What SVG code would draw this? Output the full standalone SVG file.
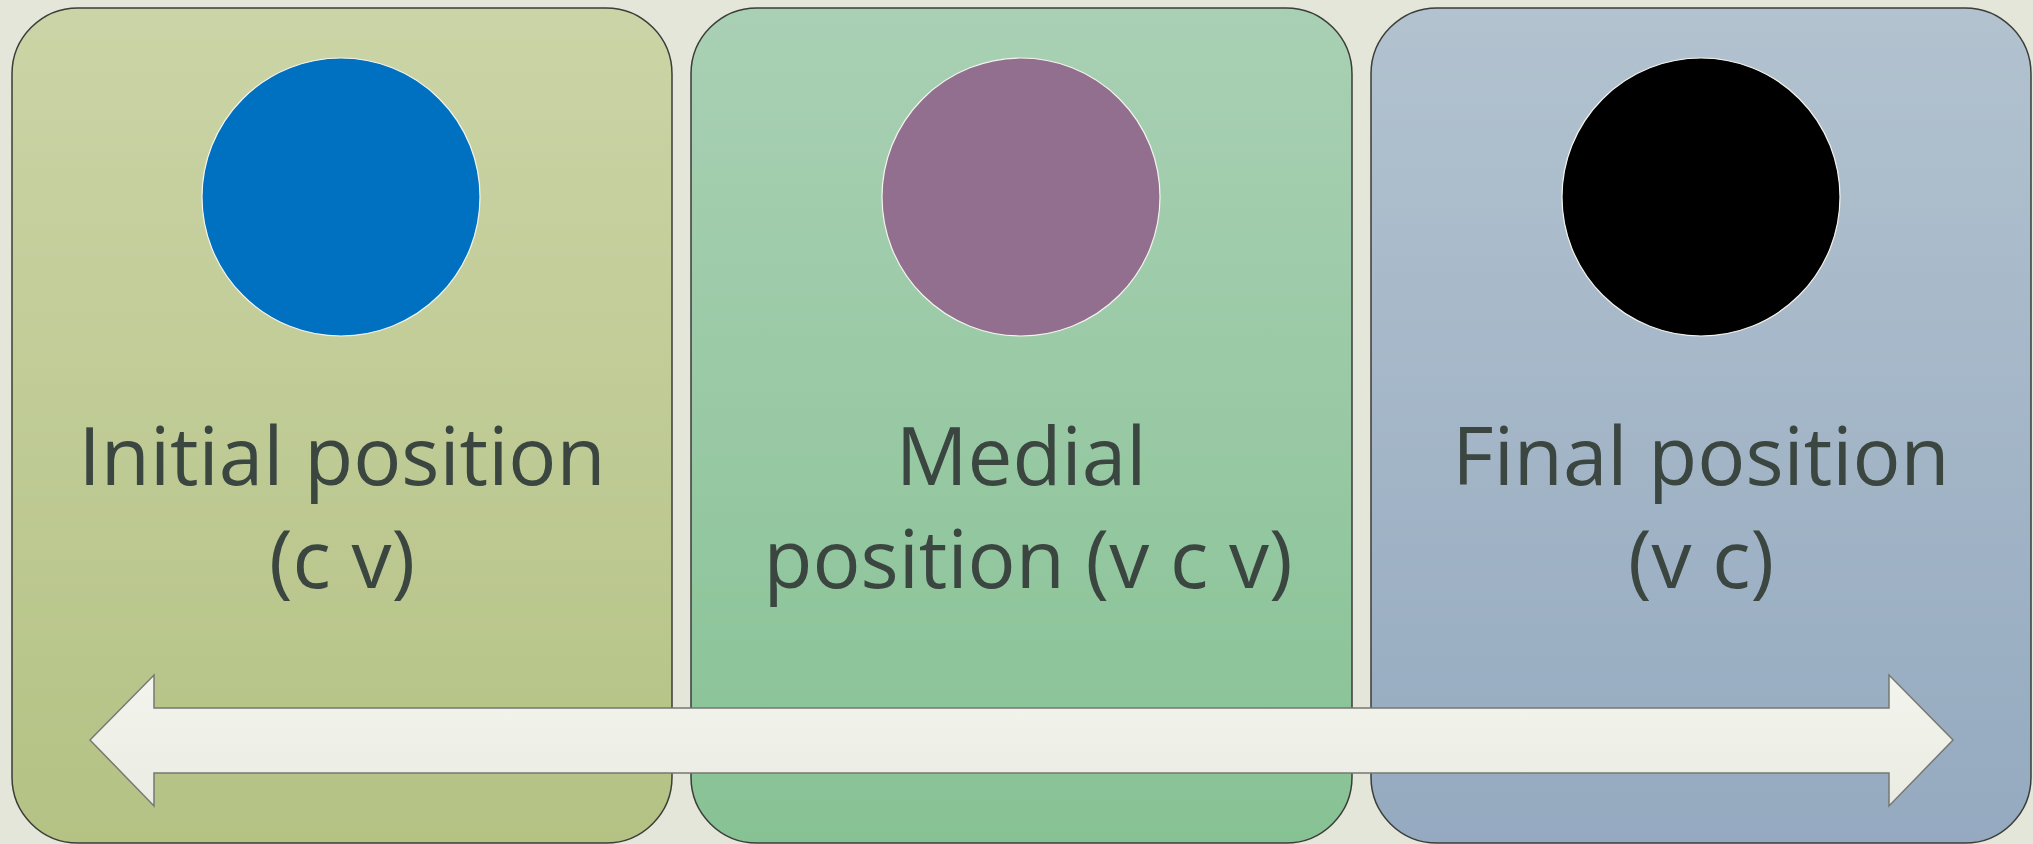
<svg xmlns="http://www.w3.org/2000/svg" width="2033" height="844" viewBox="0 0 2033 844">
<defs>
<linearGradient id="g1" x1="0" y1="0" x2="0" y2="1"><stop offset="0" stop-color="#CBD4A6"/><stop offset="1" stop-color="#B4C284"/></linearGradient>
<linearGradient id="g2" x1="0" y1="0" x2="0" y2="1"><stop offset="0" stop-color="#A9D0B4"/><stop offset="1" stop-color="#87C294"/></linearGradient>
<linearGradient id="g3" x1="0" y1="0" x2="0" y2="1"><stop offset="0" stop-color="#B2C2CF"/><stop offset="1" stop-color="#95AAC0"/></linearGradient>
<linearGradient id="ga" x1="0" y1="0" x2="0" y2="1"><stop offset="0" stop-color="#F3F4ED"/><stop offset="1" stop-color="#EAEBE2"/></linearGradient>
</defs>
<style>
.panel{stroke:#3a3d38;stroke-width:1.5}
.dot{stroke:#f4f4ee;stroke-width:1.2}
.lbl{font-family:"Open Sans","Noto Sans",sans-serif;font-size:80px;fill:#3B4641;text-anchor:middle}
</style>
<rect width="2033" height="844" fill="#E5E6DA"/>
<g id="node-initial">
<rect class="panel" x="12" y="8" width="660" height="835" rx="66" fill="url(#g1)"/>
<circle class="dot" cx="341" cy="197" r="139" fill="#0070C0"/>
<text class="lbl" x="342" y="485">Initial position</text>
<text class="lbl" x="342" y="588">(c v)</text>
</g>
<g id="node-medial">
<rect class="panel" x="691" y="8" width="661" height="835" rx="66" fill="url(#g2)"/>
<circle class="dot" cx="1021" cy="197" r="139" fill="#926F8F"/>
<text class="lbl" x="1021" y="485">Medial</text>
<text class="lbl" x="1028" y="588">position (v c v)</text>
</g>
<g id="node-final">
<rect class="panel" x="1371" y="8" width="660" height="835" rx="66" fill="url(#g3)"/>
<circle class="dot" cx="1701" cy="197" r="139" fill="#000000"/>
<text class="lbl" x="1701" y="485">Final position</text>
<text class="lbl" x="1701" y="588">(v c)</text>
</g>
<g id="connectors">
<path d="M90,740 L154,675 L154,708 L1889,708 L1889,675 L1953,740 L1889,806 L1889,773 L154,773 L154,806 Z" fill="url(#ga)" stroke="#767872" stroke-width="1.5" stroke-linejoin="miter"/>
</g>
</svg>
